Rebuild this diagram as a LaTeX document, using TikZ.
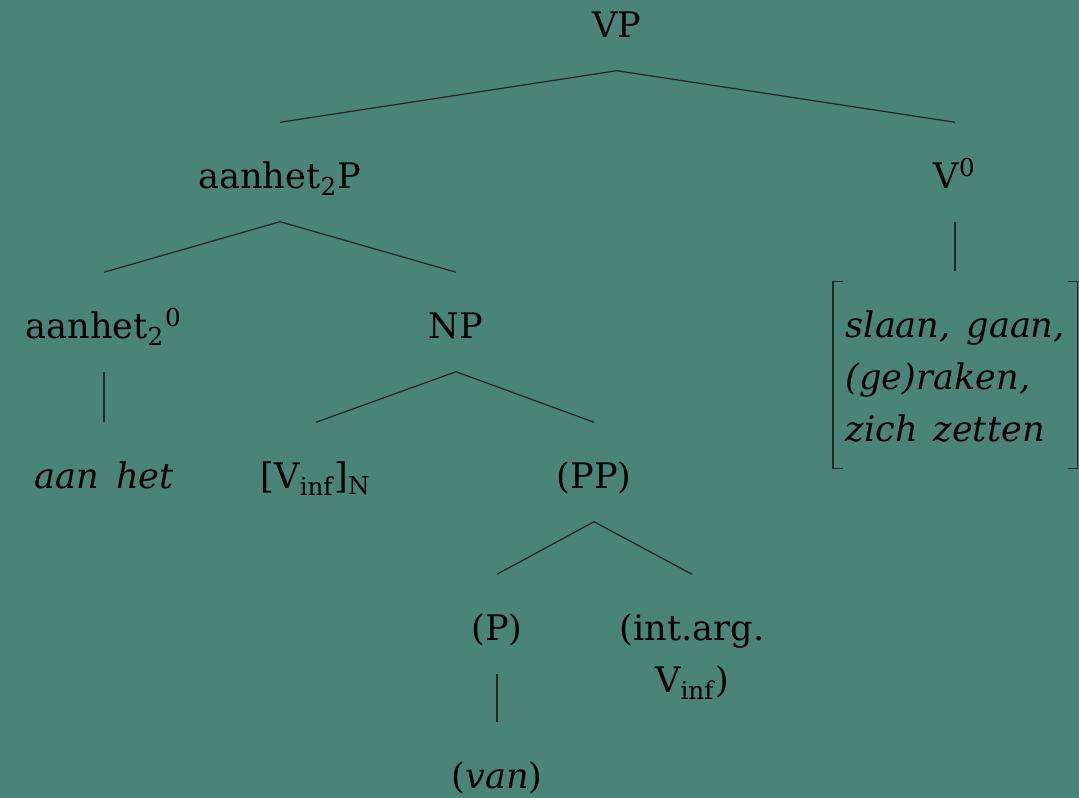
\documentclass[tikz,border=0pt]{standalone}
\usepackage{fontspec}
\setmainfont{DejaVu Serif}
\definecolor{bgteal}{RGB}{74,132,121}

\begin{document}
\begin{tikzpicture}[x=0.01cm,y=-0.01cm,
	cat/.style={inner sep=0pt,text height=0.66cm,text depth=0.32cm,anchor=base},
	branch/.style={draw=black!85,line width=0.35pt}]
	\fill[bgteal] (0,0) rectangle (1079,798);
	\useasboundingbox (0,0) rectangle (1079,798);
	
	% categories, placed on their baselines
	\node[cat] (vp) at (617,38) {VP};
	\node[cat] (aanhetp) at (280,189) {aanhet\textsubscript{2}P};
	\node[cat] (v0) at (955,189) {V\textsuperscript{0}};
	\node[cat] (aanhet0) at (104,339) {aanhet\textsubscript{2}\textsuperscript{0}};
	\node[cat] (np) at (456,339) {NP};
	\node[cat] (aanhet) at (104,489) {\textit{aan\hspace{0.5em}het}};
	\node[cat] (vinf) at (316,489) {[V\textsubscript{inf}]\textsubscript{N}};
	\node[cat] (pp) at (594,489) {(PP)};
	\node[cat] (p) at (497,641) {(P)};
	\node[cat] (intarg) at (692,641) {\def\arraystretch{1.23}\begin{tabular}[t]{@{}c@{}}(int.arg.\\V\textsubscript{inf})\end{tabular}};
	\node[cat] (van) at (497,789) {(\textit{van})};
	\node[cat,anchor=base west,text depth=1.3cm,font=\itshape] (verbs) at (845,338)
		{\def\arraystretch{1.23}\begin{tabular}[t]{@{}l@{}}slaan,\hspace{0.45em}gaan,\\(ge)raken,\\zich\hspace{0.45em}zetten\end{tabular}};
	
	% branches
	\draw[branch] (aanhetp.north) -- (vp.south) -- (v0.north);
	\draw[branch] (aanhet0.north) -- (aanhetp.south) -- (np.north);
	\draw[branch] (v0.south) -- (v0.south |- verbs.north);
	\draw[branch] (aanhet0.south) -- (aanhet.north);
	\draw[branch] (vinf.north) -- (np.south) -- (pp.north);
	\draw[branch] (p.north) -- (pp.south) -- (intarg.north);
	\draw[branch] (p.south) -- (van.north);
	
	% square brackets round the verb list
	\draw[branch] ([xshift=-0.02cm,yshift=-0.1cm]verbs.north west) -- ([xshift=-0.12cm,yshift=-0.1cm]verbs.north west)
		-- ([xshift=-0.12cm]verbs.south west) -- ([xshift=-0.02cm]verbs.south west);
	\draw[branch] ([xshift=0.02cm,yshift=-0.1cm]verbs.north east) -- ([xshift=0.12cm,yshift=-0.1cm]verbs.north east)
		-- ([xshift=0.12cm]verbs.south east) -- ([xshift=0.02cm]verbs.south east);
\end{tikzpicture}
\end{document}
